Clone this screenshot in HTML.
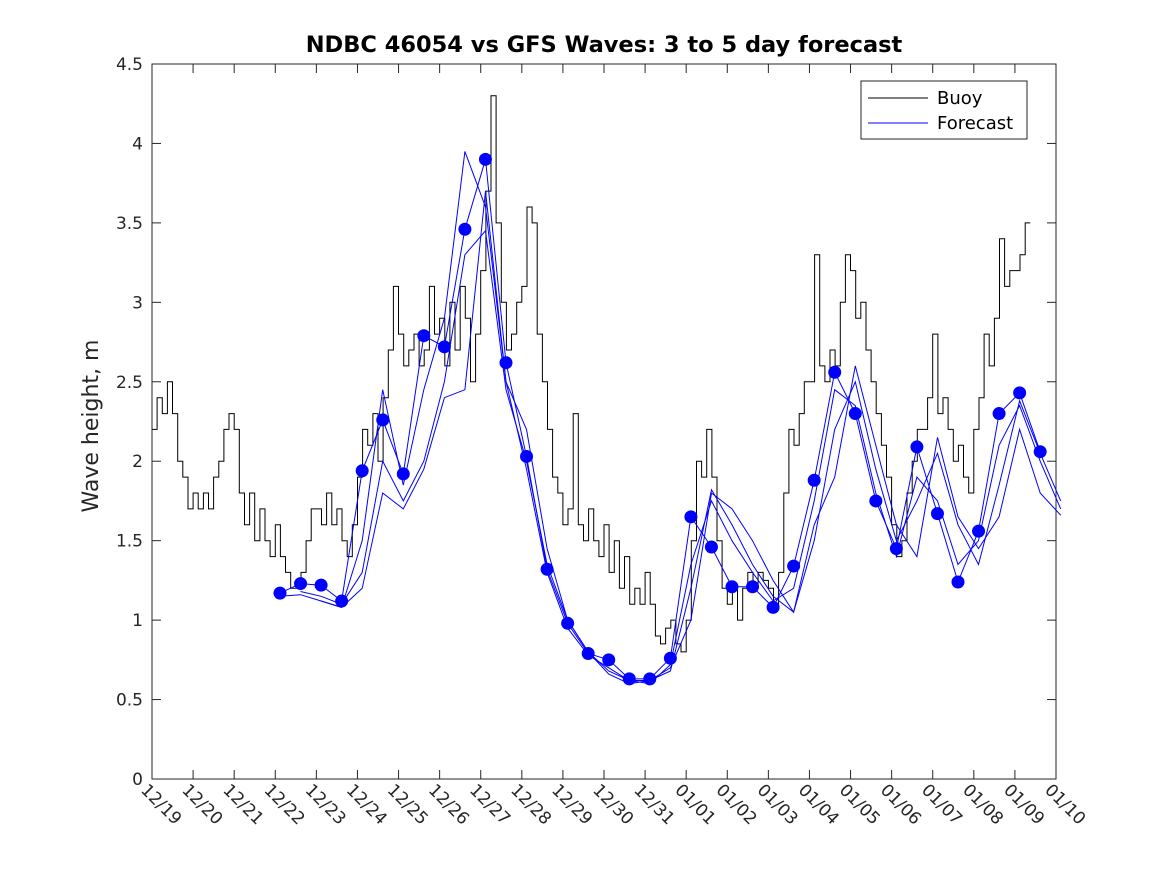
<!DOCTYPE html>
<html><head><meta charset="utf-8"><style>
body{margin:0;background:#fff}
svg{display:block;font-family:"DejaVu Sans","Liberation Sans",sans-serif}
</style></head><body>
<svg id="chart" width="1167" height="875" viewBox="0 0 1167 875" xmlns="http://www.w3.org/2000/svg">
<rect width="1167" height="875" fill="#fff"/>
<text x="604" y="52" text-anchor="middle" font-size="22.5" font-weight="bold" fill="#000">NDBC 46054 vs GFS Waves: 3 to 5 day forecast</text>
<text transform="translate(98,426) rotate(-90)" text-anchor="middle" font-size="22" fill="#262626">Wave height, m</text>
<g id="plot"></g>
<g>
<rect x="861" y="81" width="166" height="58" fill="#fff" stroke="#262626" stroke-width="1"/>
<line x1="868" y1="98" x2="928" y2="98" stroke="#000" stroke-width="1"/>
<text x="937" y="104" font-size="18" fill="#000">Buoy</text>
<line x1="868" y1="123" x2="928" y2="123" stroke="#0000ff" stroke-width="1"/>
<text x="937" y="129" font-size="18" fill="#000">Forecast</text>
</g>
</svg>
<script>
const xTickLabels=["12/19","12/20","12/21","12/22","12/23","12/24","12/25","12/26","12/27","12/28","12/29","12/30","12/31","01/01","01/02","01/03","01/04","01/05","01/06","01/07","01/08","01/09","01/10"];
const yTicks=[0,0.5,1,1.5,2,2.5,3,3.5,4,4.5];
const buoyStep=0.125;
const buoy=[2.2,2.4,2.3,2.5,2.3,2.0,1.9,1.7,
1.8,1.7,1.8,1.7,1.9,2.0,2.2,2.3,
2.2,1.8,1.6,1.8,1.5,1.7,1.5,1.4,
1.6,1.4,1.3,1.2,1.2,1.3,1.5,1.7,
1.7,1.6,1.8,1.6,1.7,1.5,1.4,1.6,
1.9,2.2,2.1,2.3,2.0,2.4,2.7,3.1,
2.8,2.6,2.7,2.8,2.6,2.7,3.1,2.8,
2.9,2.6,3.0,2.7,3.1,2.9,2.5,2.8,
3.2,3.7,4.3,3.5,3.0,2.7,2.8,3.0,
3.1,3.6,3.5,2.8,2.5,2.2,1.9,1.8,
1.6,1.7,2.3,1.6,1.5,1.7,1.5,1.4,
1.6,1.3,1.5,1.2,1.4,1.1,1.2,1.1,
1.3,1.1,0.9,0.85,0.95,1.0,0.85,0.8,
1.0,1.5,2.0,1.9,2.2,1.9,1.5,1.2,
1.1,1.2,1.0,1.2,1.3,1.2,1.3,1.25,
1.2,1.1,1.3,1.8,2.2,2.1,2.3,2.5,
2.5,3.3,2.6,2.5,2.7,2.6,3.0,3.3,
3.2,2.9,3.0,2.7,2.5,2.3,2.1,1.9,
1.6,1.4,1.5,1.8,2.0,2.2,2.2,2.4,
2.8,2.3,2.4,2.2,2.0,2.1,1.9,1.8,
2.2,2.4,2.8,2.6,2.9,3.4,3.1,3.2,
3.2,3.3,3.5];
const fcStart=3.115, fcStep=0.5;
const dots=[1.17,1.23,1.22,1.12,1.94,2.26,1.92,2.79,2.72,3.46,3.90,2.62,2.03,1.32,0.98,0.79,0.75,0.63,0.63,0.76,1.65,1.46,1.21,1.21,1.08,1.34,1.88,2.56,2.30,1.75,1.45,2.09,1.67,1.24,1.56,2.30,2.43,2.06];
const fc1=[1.15,1.16,1.12,1.08,1.5,2.45,1.85,2.45,2.9,3.95,3.6,2.5,1.95,1.3,0.95,0.78,0.7,0.62,0.6,0.72,1.35,1.75,1.5,1.3,1.12,1.2,1.75,2.45,2.35,1.8,1.4,1.9,1.75,1.35,1.5,2.1,2.35,2.0,1.7];
const fc2=[null,1.18,1.15,1.10,1.3,2.0,1.75,2.0,2.5,3.3,3.45,2.45,2.0,1.35,1.0,0.8,0.68,0.62,0.62,0.68,1.2,1.82,1.6,1.35,1.15,1.05,1.5,2.2,2.5,1.95,1.5,1.75,2.05,1.6,1.35,1.85,2.38,2.05,1.75];
const fc3=[null,null,1.12,1.08,1.2,1.8,1.7,1.95,2.4,2.45,3.7,2.5,2.2,1.45,1.0,0.8,0.66,0.6,0.62,0.7,1.0,1.8,1.7,1.5,1.25,1.05,1.6,1.9,2.6,2.1,1.6,1.4,2.15,1.65,1.45,1.65,2.2,1.8,1.66];

const L=152,R=1056,T=64,B=779,NS="http://www.w3.org/2000/svg";
const xs=d=>L+d*(R-L)/22;
const ys=v=>B-v*(B-T)/4.5;
const g=document.getElementById('plot');
function mk(tag,attrs,parent){const e=document.createElementNS(NS,tag);for(const k in attrs)e.setAttribute(k,attrs[k]);(parent||g).appendChild(e);return e;}
const box=mk('rect',{x:L,y:T,width:R-L,height:B-T,fill:'none',stroke:'#262626','stroke-width':1});


yTicks.forEach(v=>{
  const y=ys(v);
  mk('line',{x1:L,y1:y,x2:L+9,y2:y,stroke:'#262626'});
  mk('line',{x1:R,y1:y,x2:R-9,y2:y,stroke:'#262626'});
  const t=mk('text',{x:L-9,y:y+6,'text-anchor':'end','font-size':17,fill:'#262626'});
  t.textContent=String(v);
  
  
});
xTickLabels.forEach((lab,i)=>{
  const x=xs(i);
  mk('line',{x1:x,y1:B,x2:x,y2:B-9,stroke:'#262626'});
  mk('line',{x1:x,y1:T,x2:x,y2:T+9,stroke:'#262626'});
  const t=mk('text',{transform:`translate(${x-12},${B+12}) rotate(45)`,'font-size':17,fill:'#262626'});
  t.textContent=lab;
  
  
});
const bpts=[];
buoy.forEach((v,i)=>{
  const x0=xs(i*buoyStep),x1=xs((i+1)*buoyStep),y=ys(v);
  bpts.push(`${x0.toFixed(1)},${y.toFixed(1)}`);
  bpts.push(`${x1.toFixed(1)},${y.toFixed(1)}`);
});
const bl=mk('polyline',{points:bpts.join(' '),fill:'none',stroke:'#000','stroke-width':1});


[fc1,fc2,fc3].forEach((arr,k)=>{
  const pts=[];arr.forEach((v,i)=>{if(v!==null)pts.push(`${xs(fcStart+i*fcStep).toFixed(1)},${ys(v).toFixed(1)}`);});
  const p=mk('polyline',{points:pts.join(' '),fill:'none',stroke:'#0000ff','stroke-width':1});
  
  
});
const dp=dots.map((v,i)=>`${xs(fcStart+i*fcStep).toFixed(1)},${ys(v).toFixed(1)}`).join(' ');
const dl=mk('polyline',{points:dp,fill:'none',stroke:'#0000ff','stroke-width':1});


dots.forEach((v,i)=>{
  const c=mk('circle',{cx:xs(fcStart+i*fcStep),cy:ys(v),r:6.5,fill:'#0000ff'});
  
  
});
</script>
</body></html>
